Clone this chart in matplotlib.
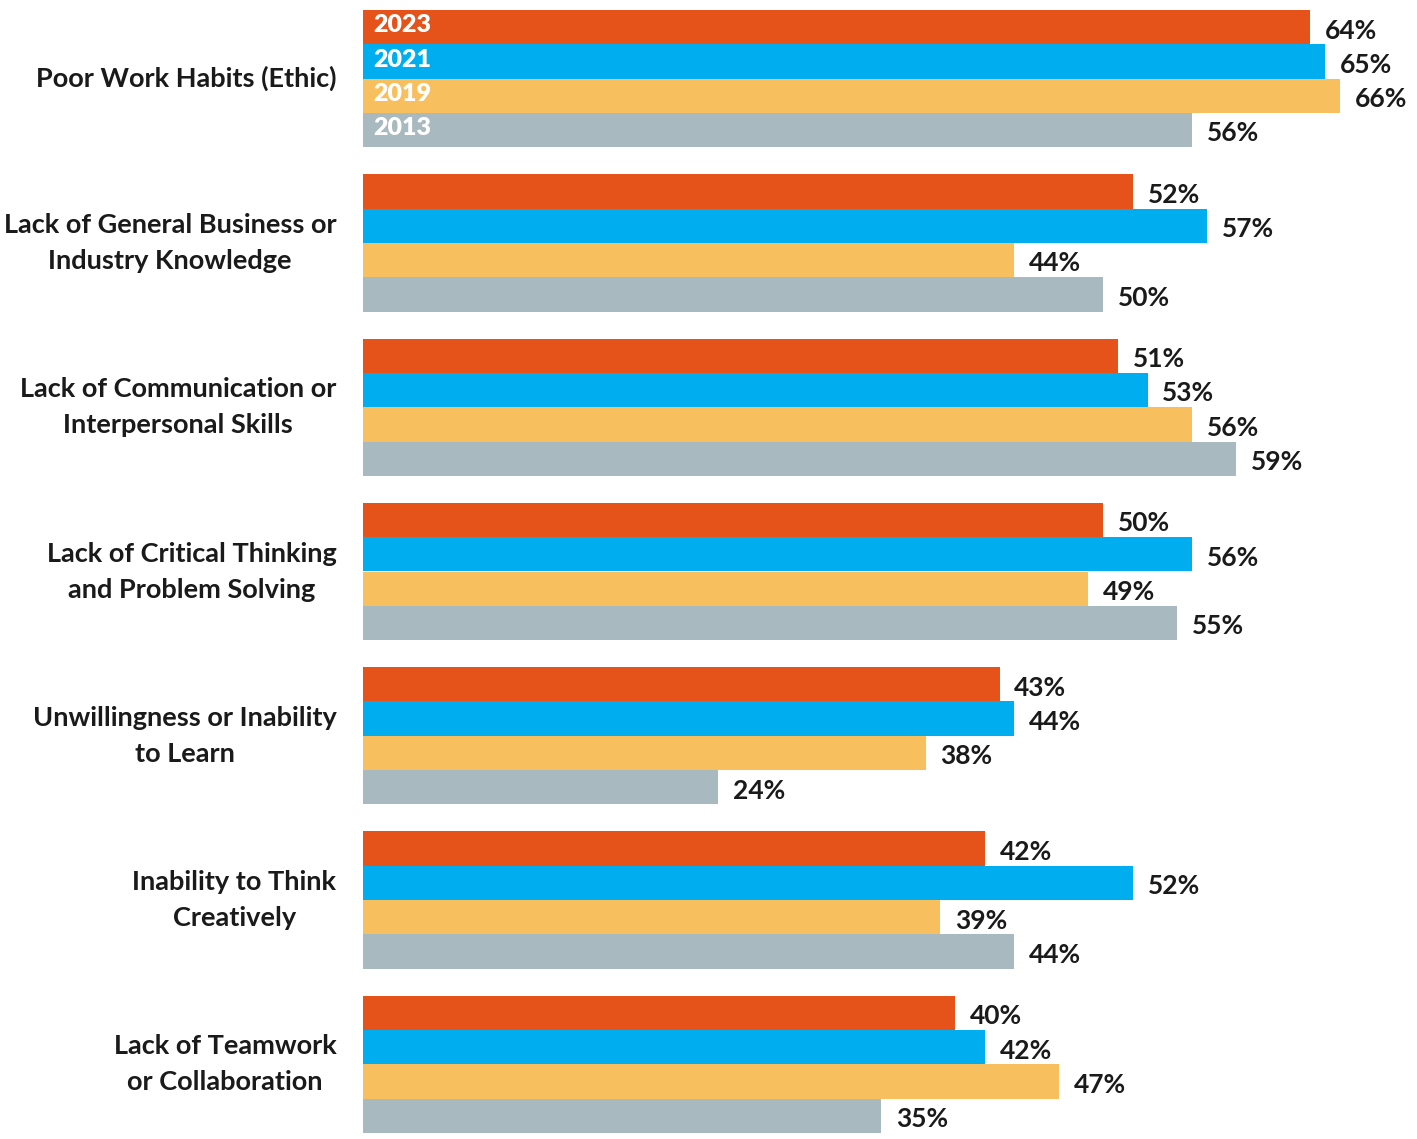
import matplotlib
import matplotlib.pyplot as plt

matplotlib.use('Agg')
plt.rcParams['font.family'] = ['Lato', 'DejaVu Sans']

# skills employers say new hires lack, share of respondents (%)
categories = [
    "Poor Work Habits (Ethic)",
    "Lack of General Business or\nIndustry Knowledge",
    "Lack of Communication or\nInterpersonal Skills",
    "Lack of Critical Thinking\nand Problem Solving",
    "Unwillingness or Inability\nto Learn",
    "Inability to Think\nCreatively",
    "Lack of Teamwork\nor Collaboration",
]
years = ["2023", "2021", "2019", "2013"]
values_2023 = [64, 52, 51, 50, 43, 42, 40]
values_2021 = [65, 57, 53, 56, 44, 52, 42]
values_2019 = [66, 44, 56, 49, 38, 39, 47]
values_2013 = [56, 50, 59, 55, 24, 44, 35]
series = [values_2023, values_2021, values_2019, values_2013]
colors = ["#E5531A", "#00AEEF", "#F8BF5F", "#A9B9C0"]

period = 4.79  # group pitch in bar heights

fig = plt.figure(figsize=(14.17, 11.39), dpi=100)
ax = fig.add_axes([363 / 1417, 1 - 1133 / 1139, 1 - 363 / 1417, 1123 / 1139])

for j, (vals, col) in enumerate(zip(series, colors)):
    ys = [i * period + j + 0.5 for i in range(len(categories))]
    ax.barh(ys, vals, height=1.0, color=col, edgecolor='none')
    for y, v in zip(ys, vals):
        ax.text(v + 1.0, y + 0.1, f"{v}%", va='center', ha='left',
                fontsize=19, fontweight='bold', color='#1a1a1a')
    # year legend written inside the first group
    ax.text(0.7, j + 0.45, years[j], va='center', ha='left',
            fontsize=18, fontweight='heavy', color='white')

for i, cat in enumerate(categories):
    ax.text(-1.8, i * period + 2.0, cat, va='center', ha='right',
            multialignment='center', fontsize=19.5, fontweight='bold',
            color='#1a1a1a', linespacing=1.6)

ax.set_xlim(0, 71.2)
ax.set_ylim(6 * period + 4, 0)
ax.axis('off')

fig.savefig("out.png", dpi=100)
